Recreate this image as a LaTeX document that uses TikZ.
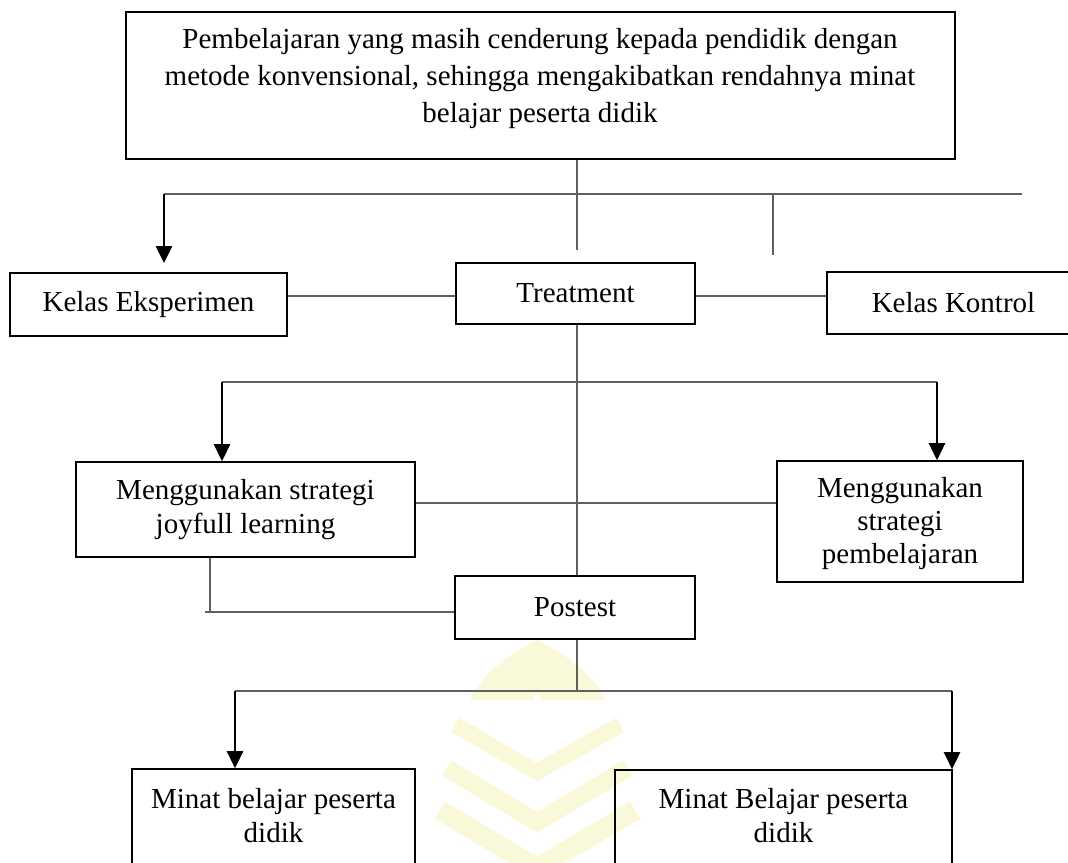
\documentclass[tikz,border=0pt]{standalone}
\usepackage{fontspec}
\setmainfont{Liberation Serif}
\usetikzlibrary{arrows.meta}
\newcommand\diagfont{\fontsize{29}{34}\selectfont}
\definecolor{wmyellow}{RGB}{249,249,218}
\definecolor{connGray}{RGB}{95,95,95}
\begin{document}
\begin{tikzpicture}[x=1pt,y=-1pt,
  box/.style={draw=black,line width=1.6pt,rectangle,inner sep=0pt,align=center,font=\diagfont},
  txt/.style={align=center,font=\diagfont,inner sep=0pt},
  conn/.style={draw=connGray,line width=1.1pt},
  arr/.style={draw=black,line width=2.6pt,-{Triangle[length=17pt,width=16pt]}}
]
\clip (0,0) rectangle (1068,862);
\fill[white] (0,0) rectangle (1068,862);
% faint watermark
\fill[wmyellow] (537,640) .. controls (505,655) and (478,680) .. (470,700) -- (605,700) .. controls (597,680) and (570,655) .. (537,640);
\draw[white,line width=6pt] (537,695) -- (538,715);
\draw[wmyellow,line width=16pt] (455,725) -- (537,772) -- (620,725);
\draw[wmyellow,line width=18pt] (447,768) -- (537,822) -- (628,768);
\draw[wmyellow,line width=20pt] (440,810) -- (537,868) -- (635,810);

% boxes
\node[box,minimum width=829pt,minimum height=147pt] (top) at (540.5,85.5) {};
\node[txt,font=\fontsize{29}{37}\selectfont] (toptext) at (540,79)
  {Pembelajaran yang masih cenderung kepada pendidik dengan\\metode konvensional, sehingga mengakibatkan rendahnya minat\\belajar peserta didik};
\node[box,minimum width=277pt,minimum height=63pt] (ke) at (148.5,304.5) {Kelas Eksperimen};
\node[box,minimum width=239pt,minimum height=61pt] (tr) at (575.5,293.5) {Treatment};
\node[box,minimum width=253pt,minimum height=62pt] (kk) at (953.5,303) {Kelas Kontrol};
\node[box,minimum width=339pt,minimum height=95pt] (joy) at (245.5,509.5) {Menggunakan strategi\\joyfull learning};
\node[box,minimum width=246pt,minimum height=121pt] (str) at (900,521.5) {};
\begin{scope}
  \clip (778,462) rectangle (1022,571);
  \node[txt,font=\fontsize{29}{33}\selectfont] (strtext) at (900,524) {Menggunakan\\strategi\\pembelajaran};
\end{scope}
\node[box,minimum width=240pt,minimum height=63pt] (pt) at (575,607.5) {Postest};
\node[box,minimum width=283pt,minimum height=131pt] (bl) at (273.5,834.5) {};
\node[txt] (bltext) at (273.5,816) {Minat belajar peserta\\didik};
\node[box,minimum width=337pt,minimum height=130pt] (br) at (783.5,835) {};
\node[txt] (brtext) at (783.5,816) {Minat Belajar peserta\\didik};

% helper coordinates
\coordinate (a1) at (577,250);
\coordinate (h1l) at (164,194);
\coordinate (h1r) at (1022,194);
\coordinate (s1) at (773,194);
\coordinate (s1e) at (773,255);
\coordinate (ketip) at (164,263);
\coordinate (y296) at (0,296);
\coordinate (v577) at (577,0);
\coordinate (h2l) at (222,382);
\coordinate (h2r) at (937,382);
\coordinate (y503) at (0,503);
\coordinate (j1) at (210,612);
\coordinate (j0) at (205,612);
\coordinate (h3c) at (577,691);
\coordinate (h3l) at (235,691);
\coordinate (h3r) at (952,691);

% connectors
\draw[conn] (top.south -| a1) -- (a1);
\draw[conn] (h1l) -- (h1r);
\draw[conn] (s1) -- (s1e);
\draw[arr] (h1l) -- (ketip);
\draw[conn] (ke.east |- y296) -- (tr.west |- y296);
\draw[conn] (tr.east |- y296) -- (kk.west |- y296);
\draw[conn] (tr.south -| v577) -- (pt.north -| v577);
\draw[conn] (h2l) -- (h2r);
\draw[arr] (h2l) -- (joy.north -| h2l);
\draw[arr] (h2r) -- (str.north -| h2r);
\draw[conn] (joy.east |- y503) -- (str.west |- y503);
\draw[conn] (joy.south -| j1) -- (j1);
\draw[conn] (j0) -- (pt.west |- j0);
\draw[conn] (pt.south -| h3c) -- (h3c);
\draw[conn] (h3l) -- (h3r);
\draw[arr] (h3l) -- (bl.north -| h3l);
\draw[arr] (h3r) -- (br.north -| h3r);
\end{tikzpicture}
\end{document}
